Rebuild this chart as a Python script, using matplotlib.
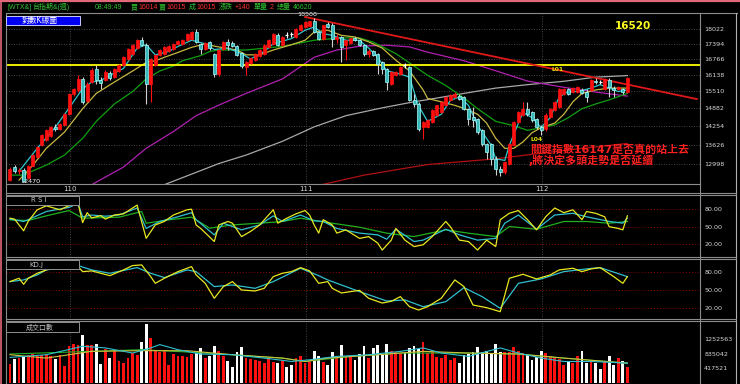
import matplotlib
matplotlib.use('Agg')
import matplotlib.pyplot as plt
from matplotlib.patches import Rectangle
from matplotlib.lines import Line2D
from matplotlib.ticker import NullLocator

plt.rcParams['font.family'] = ['DejaVu Sans', 'Noto Sans CJK TC']
HDR_FONT = ['Liberation Sans', 'Noto Sans CJK TC']

# ---------------- data (weekly candles) ----------------
opens = [12505,12915,12790,12820,12560,12950,13230,13620,13790,13920,14230,14160,14300,14680,15410,15560,15980,15150,15870,16370,
         15940,15940,16210,16060,16300,16530,16770,16980,17230,17560,17350,15790,16530,16935,16980,17100,17180,17390,17390,17560,
         17600,17905,17390,17180,17480,16970,16170,17180,17480,17430,17310,17000,16450,16620,16730,16900,16976,17266,17392,17775,
         17350,17780,17800,17690,17990,18120,18160,18380,17910,17605,18250,18200,17600,17690,17350,17430,17640,17561,17350,16976,
         17100,16976,16651,16371,15788,16135,16174,16510,16450,15188,15042,14227,14227,14400,14646,14753,15005,15188,15300,15336,
         15299,14861,14575,14505,14124,13654,13654,13167,12853,12759,13009,13621,14400,14646,14861,14753,14505,14227,14158,14575,
         14824,14933,15410,15598,15485,15485,15560,15485,15560,15900,15864,15598,15941,15636,15598,15598,15485]
highs = [12900,12980,12880,12870,12960,13310,13580,13990,14150,14260,14320,14380,14720,15450,15650,16130,16050,15850,16400,16530,
         16050,16320,16300,16420,16580,16900,17230,17400,17600,17700,17420,16820,16980,17180,17300,17350,17420,17560,17600,17850,
         17950,18050,17420,17480,17520,17000,17200,17520,17600,17500,17350,17050,16700,16830,17010,17170,17380,17600,17850,17880,
         17720,17900,17900,18060,18250,18380,18400,18500,17950,18230,18350,18280,17800,17720,17580,17660,17700,17600,17400,17200,
         17150,17000,16700,16420,16290,16300,16480,16600,16500,15400,15100,14450,14500,14850,15020,15150,15330,15400,15480,15420,
         15330,14900,14933,14550,14150,13700,13700,13250,12950,13100,13700,14450,14800,15115,15115,14800,14550,14300,14700,14900,
         15150,15620,15650,15650,15680,15700,15620,15600,15980,16000,15950,16020,16000,15700,15720,15650,16050]
lows = [12490,12740,12700,12470,12540,12930,13200,13590,13760,13880,14100,14120,14280,14640,15350,15500,15050,15100,15830,15780,
        15600,15900,15950,16020,16260,16500,16740,16950,17200,17300,15040,15110,16490,16900,16950,17060,17150,17330,17350,17520,
        17560,17450,16970,17150,17150,16050,16100,17150,17140,17250,16900,16400,16130,16580,16700,16860,16950,17230,17350,17300,
        17300,17650,17700,17650,17960,18100,18120,17870,17550,17560,18100,17270,17450,16650,16730,17400,17500,17300,16900,16850,
        16880,16174,16174,15560,15750,16100,16150,16400,15150,14933,14100,13820,14200,14380,14620,14720,14980,15150,15250,15180,
        14840,14296,14227,14000,13600,13167,12977,12667,12640,12700,12980,13600,14350,14600,14600,14400,14150,13954,14100,14540,
        14800,14900,15380,15380,15450,15450,15400,15115,15520,15800,15780,15560,15299,15299,15550,15420,15450]
closes = [12860,12790,12830,12480,12945,13295,13555,13950,14120,14230,14160,14330,14680,15410,15600,15980,15110,15790,16330,15940,
          15830,16250,16020,16370,16530,16850,17180,17350,17560,17350,15790,16770,16935,17140,17266,17310,17390,17520,17561,17820,
          17905,17480,17180,17440,17220,16170,17140,17480,17350,17310,16950,16500,16650,16800,16976,17140,17350,17561,17820,17350,
          17690,17780,17800,18030,18210,18340,18380,17910,17600,18210,18120,17605,17700,17266,17561,17640,17561,17350,16976,17100,
          16935,16570,16371,15864,16252,16252,16450,16510,15188,15042,14158,14400,14470,14824,15005,15115,15299,15373,15420,15225,
          14861,14505,14470,14056,13654,13393,13167,12853,12759,13072,13654,14400,14753,14861,14682,14470,14227,14124,14646,14861,
          15115,15598,15598,15410,15636,15670,15450,15299,15941,15864,15864,15980,15674,15560,15674,15485,16015]
volumes = [550,670,700,760,790,815,760,790,830,760,670,790,480,
           1050,1120,1090,1360,1090,1080,1100,530,980,720,910,620,560,720,860,790,1170,
           1680,1280,
           950,880,930,520,815,766,766,740,840,900,1000,700,780,1050,
           900,760,620,450,880,1020,720,690,650,620,570,700,600,560,620,
           460,520,700,760,560,640,900,780,600,500,880,700,
           1080,770,760,660,820,1050,700,990,1070,830,1100,910,870,830,850,1000,1060,980,1160,850,
           870,750,700,800,650,720,560,810,830,880,1020,880,900,860,1120,870,870,880,1020,900,860,800,660,750,900,
           850,770,720,690,520,640,560,770,900,560,640,560,400,590,760,520,700,620,460]
volumes = [v * 1000 for v in volumes]

# moving averages (week index, value)
ma5_idx = [2,6,10,13,16,18,20,22,25,28,30,32,35,37,40,43,45,48,51,53,56,58,62,65,67,69,71,74,77,79,81,83,86,88,90,92,95,97,99,101,103,106,107,109,110,112,113,115,117,119,121,123,125,128,130,132,134,136]
ma5_val = [12780,13510,14220,14890,15610,15860,15920,16120,16390,17220,17360,16940,17080,17290,17550,17400,17160,17220,16990,16770,17080,17400,17620,17980,18120,17830,17760,17550,17550,17220,16840,16300,16170,16050,14970,14420,14670,15170,15300,14990,14280,13610,13170,13120,13610,14360,14730,14550,14210,14550,15300,15500,15500,15630,15760,15630,15500,15560]
ma10_idx = [2,5,8,12,16,19,23,27,30,32,34,37,40,43,45,50,52,55,58,62,65,67,70,73,76,79,82,85,88,91,92,95,98,100,103,105,107,109,111,113,115,117,120,122,124,126,129,132,136]
ma10_val = [12510,12960,13510,14050,14870,15430,15860,16290,16630,16700,16840,17040,17250,17400,17300,17140,16940,16940,17140,17360,17550,17900,17980,17760,17690,17480,17220,16720,16300,15560,15240,15120,14990,14880,14670,14360,13840,13510,13510,13720,14030,14200,14360,14670,15120,15430,15560,15630,15630]
ma20_idx = [0,3,5,8,12,16,19,23,27,30,33,36,38,42,44,46,52,60,67,73,77,80,85,89,92,96,100,103,107,111,114,117,120,123,126,129,132,136]
ma20_val = [12660,12660,12790,12970,13290,13840,14420,15040,15500,15980,16290,16490,16700,16910,17080,17140,17140,17290,17550,17650,17650,17470,16990,16490,16120,15730,15260,14870,14420,14270,14110,14200,14300,14550,14870,15040,15190,15430]
ma60_idx = [18,25,30,36,41,46,52,60,67,72,77,83,88,92,100,107,114,122,129,136]
ma60_val = [12370,12910,13510,14070,14620,15000,15430,15980,16840,17140,17300,17340,17270,17050,16700,16300,15900,15660,15480,15330]
ma120_idx = [34,46,52,60,67,74,82,89,92,100,107,114,122,129,136]
ma120_val = [12370,13020,13290,13740,14230,14620,14900,15120,15200,15430,15630,15760,15890,16050,16110]
ma240_idx = [68,78,92,107,122,136]
ma240_val = [12350,12660,12990,13170,13440,13670]

trend_idx = [65, 151.3]
trend_val = [18570, 15220]
level_line = 16520

# RSI (three lines)
rsi1_idx = [0,1,3,4,6,8,11,13,15,16,17,18,20,21,23,25,27,28,30,32,34,36,39,40,41,42,45,46,48,49,51,53,55,58,59,61,63,65,66,67,68,69,71,72,74,77,79,81,82,84,85,87,89,91,93,96,97,99,101,103,105,107,108,110,112,114,116,118,120,122,124,126,127,129,131,132,134,135,136]
rsi1_val = [64.6,63,43,59,79,85.7,79,86,90,57,74,65,69,63,70,72,82,87,30,53,59,70,79,80,53,47,24.6,53,59,56,33,42,53,79,56,64.6,72,77.7,70,53,39,62,53,39,44.6,30,33,22,10,27,47,27,16,19,33,59,50,27,24.6,10,27,16,62,73,77.7,62,44.6,67,82,74,79,62,76,73,67,50,47,44.6,68.6]
rsi2_idx = [0,3,4,8,13,15,16,18,21,24,28,30,33,37,40,41,45,47,51,55,58,60,64,67,69,72,77,81,83,85,89,91,96,99,103,107,109,112,116,120,124,127,132,135,136]
rsi2_val = [63,59,62,76,83,90,67,70,68,70,82,47,59,67,74,62,36,56,44.6,53,68.6,59,70,60,59,47,39,36,28.6,45.7,24.6,27,45.7,36,27,30,56,70,45.7,70,73,67,59,56,64.6]
rsi3_idx = [0,4,8,13,16,24,29,30,35,40,44,49,55,60,64,70,77,83,89,96,101,107,110,116,122,127,132,136]
rsi3_val = [61.7,60.6,68.6,77.7,64.6,66.3,76,56,61.7,66.3,47.4,53.1,56,58.9,64.6,57.1,49.1,38.9,33.1,44.6,38.9,33.1,50.3,45.7,58.9,58.9,56,58.9]

# KD
k_idx = [0,2,3,4,6,9,15,16,18,20,22,25,27,29,31,32,34,37,40,41,43,45,47,49,51,54,56,58,60,62,64,66,68,70,71,73,77,79,82,84,86,88,90,92,95,98,100,102,105,108,110,113,116,119,121,124,126,128,130,133,135,136]
k_val = [64.2,69.8,59.6,69.8,78.3,86.8,89.6,81.1,82.3,78.3,74.3,84,91.3,92.5,72.6,61.3,69.8,81.1,89.6,75.5,61.3,35.9,55.7,64.2,50,48.3,52.8,72.6,78.3,81.1,87.9,82.3,61.3,64.2,52.8,44.9,49.4,35.9,27.9,30.8,38.7,21.7,16,21.7,35.9,67,55.7,24.5,20,13.2,69.8,76.6,68.7,75.5,84,86.8,81.1,85.7,87.9,72.6,61.3,72.6]
d_idx = [0,3,6,8,15,18,22,28,31,34,39,41,45,49,54,58,64,68,70,77,83,87,91,96,100,104,108,112,117,122,127,130,136]
d_val = [64.2,67,75.5,84,91.3,84,78.3,87.9,78.3,71,84,81.1,55.7,58.5,52.8,64.2,86.8,74.3,67,47.2,31.3,33.1,21.7,30.2,54,38.7,18.9,61.3,68.7,81.1,85.7,87.9,72.6]

# volume moving averages (thousands)
vma1_idx = [0,8,16,21,27,31,33,37,42,49,56,62,66,72,79,86,91,95,101,108,112,117,122,128,136]
vma1_val = [730,806,1046,1000,854,1000,1094,950,826,806,710,614,662,758,806,902,1000,854,758,1000,854,710,614,614,566]
vma2_idx = [0,8,18,29,39,49,60,65,70,81,91,101,112,122,136]
vma2_val = [806,710,902,921,921,806,710,614,710,806,902,854,826,710,566]
vma3_idx = [0,18,29,39,49,60,65,75,86,101,112,122,136]
vma3_val = [826,902,950,883,806,710,614,758,854,854,826,710,566]

price_ticks = [18022,17394,16766,16138,15510,14882,14254,13626,12998]
ind_ticks = [80, 50, 20]
vol_ticks = [1252563, 835042, 417521]
year_pos = [13.3, 65.3, 117.2]
year_labels = ['110', '111', '112']

# ---------------- figure ----------------
W, H = 740, 384
fig = plt.figure(figsize=(W / 100, H / 100), dpi=100, facecolor='black')
XL = (-0.88, 152.0)
GRID = '#5a5a5a'
FRAME = '#8c8c8c'
LBL = '#d8d8d8'


def px_axes(x0, y0, x1, y1):
    ax = fig.add_axes([x0 / W, 1 - y1 / H, (x1 - x0) / W, (y1 - y0) / H])
    ax.set_facecolor('black')
    for s in ax.spines.values():
        s.set_visible(False)
    ax.set_xlim(*XL)
    ax.yaxis.tick_right()
    ax.tick_params(axis='y', length=0, pad=3, labelsize=4.6, labelcolor=LBL)
    ax.set_xticks(year_pos)
    ax.tick_params(axis='x', length=0, labelbottom=False)
    ax.grid(axis='x', color=GRID, ls=(0, (1, 2)), lw=0.6)
    return ax


def fline(x0, y0, x1, y1, color=FRAME, lw=0.8):
    fig.add_artist(Line2D([x0 / W, x1 / W], [1 - y0 / H, 1 - y1 / H], color=color, lw=lw))


def ftext(x, y, s, **kw):
    fig.text(x / W, 1 - y / H, s, va='center', ha='left', **kw)


n = len(closes)
UP = '#ff1010'
DN_FACE = '#38b8b8'
DN_EDGE = '#a8ffff'

# ---- main price panel ----
ax = px_axes(6, 13, 700, 184)
ax.set_yscale('log')
ax.set_ylim(12391, 18747)
ax.set_yticks(price_ticks)
ax.set_yticklabels([str(t) for t in price_ticks])
ax.yaxis.set_minor_locator(NullLocator())
ax.grid(axis='y', color=GRID, ls=(0, (1, 2)), lw=0.6)
ax.tick_params(axis='x', labelbottom=True, labelsize=5, labelcolor=LBL, pad=1.5)
ax.set_xticklabels(year_labels)

ax.plot(ma240_idx, ma240_val, color='#b01010', lw=0.9)
ax.plot(ma120_idx, ma120_val, color='#a8a8a8', lw=0.9)
ax.plot(ma60_idx, ma60_val, color='#b020b0', lw=0.9)
ax.plot(ma20_idx, ma20_val, color='#10a010', lw=0.9)
ax.plot(ma10_idx, ma10_val, color='#c8b840', lw=0.9)
ax.plot(ma5_idx, ma5_val, color='#30c8d0', lw=0.9)
ax.axhline(level_line, color='#ffff00', lw=1.3)
ax.plot(trend_idx, trend_val, color='#e01818', lw=1.3)

for i in range(n):
    o, h, l, c = opens[i], highs[i], lows[i], closes[i]
    if c > o:
        ax.vlines(i, l, h, color=UP, lw=0.8, zorder=3)
        ax.add_patch(Rectangle((i - 0.33, o), 0.66, c - o, facecolor=UP, edgecolor=UP, lw=0.5, zorder=4))
    elif c < o:
        ax.vlines(i, l, h, color='#d0d0d0', lw=0.8, zorder=3)
        ax.add_patch(Rectangle((i - 0.33, c), 0.66, o - c, facecolor=DN_FACE, edgecolor=DN_EDGE, lw=0.5, zorder=4))
    else:
        ax.vlines(i, l, h, color='white', lw=0.8, zorder=3)
        ax.hlines(c, i - 0.33, i + 0.33, color='white', lw=0.9, zorder=4)

imax = highs.index(max(highs))
imin = lows.index(min(lows))
ax.text(imax - 1.5, max(highs) * 1.0035, str(max(highs)), color='white', fontsize=4.6, ha='center', va='bottom')
ax.text(imin + 1.5, min(lows) * 0.999, str(min(lows)), color='white', fontsize=4.6, ha='center', va='center')
ax.text(120.7, 16350, 'L01', color='#e8e800', fontsize=4.3, ha='center', va='center', fontweight='bold')
ax.text(115.9, 13800, 'L04', color='#e8e800', fontsize=4.3, ha='center', va='center', fontweight='bold')

# ---- RSI ----
ar = px_axes(6, 195, 700, 257)
ar.set_ylim(-1.9, 104.3)
ar.set_yticks(ind_ticks)
ar.set_yticklabels(['%.2f' % t for t in ind_ticks])
for t in ind_ticks:
    ar.axhline(t, color='#8a0000', ls=(0, (1, 2)), lw=0.7)
ar.plot(rsi3_idx, rsi3_val, color='#20b020', lw=0.9)
ar.plot(rsi2_idx, rsi2_val, color='#30c0d0', lw=0.9)
ar.plot(rsi1_idx, rsi1_val, color='#e8e820', lw=0.9)

# ---- KD ----
ak = px_axes(6, 259, 700, 319)
ak.set_ylim(0.8, 102.5)
ak.set_yticks(ind_ticks)
ak.set_yticklabels(['%.2f' % t for t in ind_ticks])
for t in ind_ticks:
    ak.axhline(t, color='#8a0000', ls=(0, (1, 2)), lw=0.7)
ak.plot(d_idx, d_val, color='#30c0d0', lw=0.9)
ak.plot(k_idx, k_val, color='#e8e820', lw=0.9)

# ---- Volume ----
av = px_axes(6, 321, 700, 383.5)
av.set_ylim(-14000, 1767000)
av.set_yticks(vol_ticks)
av.set_yticklabels([str(t) for t in vol_ticks])
vcol = ['#ff1010' if closes[i] > opens[i] else 'white' for i in range(n)]
av.bar(range(n), volumes, width=0.62, color=vcol, zorder=2)
av.plot(vma3_idx, [v * 1000 for v in vma3_val], color='#20b020', lw=0.8, zorder=3)
av.plot(vma2_idx, [v * 1000 for v in vma2_val], color='#d0c040', lw=0.8, zorder=3)
av.plot(vma1_idx, [v * 1000 for v in vma1_val], color='#30c0d0', lw=0.8, zorder=3)

# ---------------- frame lines ----------------
fline(0, 0.8, 740, 0.8, color='#e06878', lw=1.6)
fline(0.6, 0, 0.6, 384, color='#e06878', lw=1.2)
fline(6, 13, 737, 13)
fline(6, 13, 6, 384)
fline(700, 13, 700, 384)
fline(736, 13, 736, 384, color='#b0b0b0')
fline(6, 184, 700, 184)
fline(6, 193, 736, 193)
fline(6, 195, 736, 195)
fline(6, 257, 736, 257)
fline(6, 259, 736, 259)
fline(6, 319, 736, 319)
fline(6, 321, 736, 321)


def fbox(x0, y0, x1, y1, face, edge):
    fig.add_artist(Rectangle((x0 / W, 1 - y1 / H), (x1 - x0) / W, (y1 - y0) / H,
                             facecolor=face, edgecolor=edge, lw=0.7, transform=fig.transFigure, zorder=5))


fbox(6, 16, 80, 25, '#0000f0', '#c8c8ff')
ftext(22, 20.5, '對數K線圖', color='white', fontsize=5.6, zorder=6)
fbox(6, 196, 79, 205, 'black', '#909090')
ftext(31, 200.5, 'R S I', color='#c0c0c0', fontsize=5, zorder=6)
fbox(6, 260, 79, 269, 'black', '#909090')
ftext(29, 264.5, 'KD.J', color='#c0c0c0', fontsize=5, zorder=6)
fbox(6, 322, 79, 332, 'black', '#909090')
ftext(26, 327, '成交口數', color='#c0c0c0', fontsize=5, zorder=6)

# header
G = '#30c030'
R = '#ff3030'
hdr = [(7, '[WTX&]', G), (32, '台指期&(週)', G), (95, '08:49:49', G), (131, '買', G), (138, '16014', R),
       (159, '賣', G), (166, '16015', R), (189, '成', G), (196, '16015', R), (219, '漲跌', G),
       (235, '+140', R), (254, '單量', G), (270, '2', R), (277, '總量', G), (293, '46620', G)]
for x, s, c in hdr:
    ftext(x, 7.3, s, color=c, fontsize=5.0, family=HDR_FONT)

ftext(615, 26, '16520', color='#ffff20', fontsize=7.5, fontweight='bold')
ftext(530, 149.5, '關鍵指數16147是否真的站上去', color='#ff2020', fontsize=7.9, fontweight='bold')
ftext(528, 160.5, ',將決定多頭走勢是否延續', color='#ff2020', fontsize=7.9, fontweight='bold')

fig.savefig('out.png', dpi=100, facecolor='black')
